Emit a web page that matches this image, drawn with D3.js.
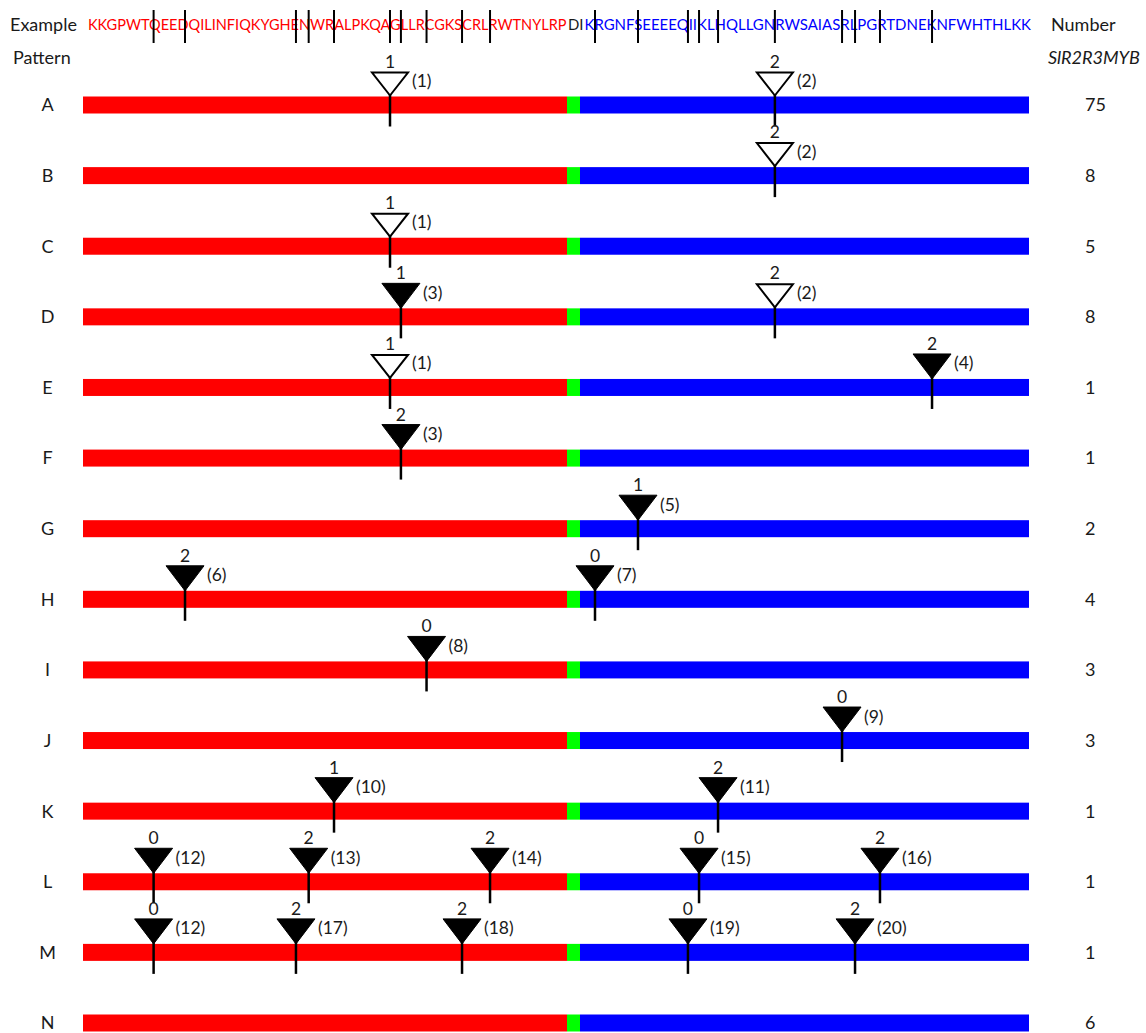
<!DOCTYPE html>
<html>
<head>
<meta charset="utf-8">
<script src="https://cdn.jsdelivr.net/npm/d3@7"></script>
<style>
  html, body { margin: 0; padding: 0; background: #ffffff; }
  svg { display: block; }
  text { font-family: Lato, "Open Sans", sans-serif; fill: #1a1a1a; }
</style>
</head>
<body>
<svg id="chart"></svg>
<script>
// ---------- data ----------
const patterns = ["A","B","C","D","E","F","G","H","I","J","K","L","M","N"];
const counts   = [75, 8, 5, 8, 1, 1, 2, 4, 3, 3, 1, 1, 1, 6];

// intron ids and their positions (amino-acid index along the 100-aa R2R3 domain)
const intronIds = [1, 2, 3, 4, 5, 6, 7, 8, 9, 10, 11, 12, 13, 14, 15, 16, 17, 18, 19, 20];
const intronPos = [32.35, 73.4, 33.5, 89.85, 59.07, 10.75, 54.57, 36.2, 80.43, 26.45,
                   67.45, 7.44, 23.78, 42.89, 65.46, 84.4, 22.44, 39.94, 64.3, 81.79];
const openIntrons = [1, 2];

// introns in each pattern and the phase printed above each
const patternIntrons = [[1,2],[2],[1],[3,2],[1,4],[3],[5],[6,7],[8],[9],[10,11],
                        [12,13,14,15,16],[12,17,18,19,20],[]];
const patternPhases  = [[1,2],[2],[1],[1,2],[1,2],[2],[1],[2,0],[0],[0],[1,2],
                        [0,2,2,0,2],[0,2,2,0,2],[]];

// domain regions: R2 repeat (red), linker (green), R3 repeat (blue)
const regionNames  = ["R2", "linker", "R3"];
const regionBounds = [0, 51, 53, 100];
const regionColors = ["#ff0000", "#00ff00", "#0000ff"];
const sequences    = ["KKGPWTQEEDQILINFIQKYGHENWRALPKQAGLLRCGKSCRLRWTNYLRP", "DI",
                      "KRGNFSEEEEQIIKLHQLLGNRWSAIASRLPGRTDNEKNFWHTHLKK"];
const seqColors    = ["#ff0000", "#1a1a1a", "#0000ff"];

// ---------- layout ----------
const W = 1146, H = 1033;
const svg = d3.select("#chart").attr("width", W).attr("height", H);
svg.append("rect").attr("width", W).attr("height", H).attr("fill", "#fff");

const x = d3.scaleLinear().domain(regionBounds).range([83, 567, 580, 1029]);
const y = d3.scalePoint().domain(patterns).range([105, 1023]);
const barH = 17, triW = 38, triH = 25;
const fs = 18;
const posOf = id => intronPos[intronIds.indexOf(id)];

// ---------- header ----------
svg.append("text").attr("x", 10).attr("y", 30.5).attr("font-size", fs).text("Example");
svg.append("text").attr("x", 13).attr("y", 64).attr("font-size", fs).text("Pattern");
svg.append("text").attr("x", 1051).attr("y", 30.5).attr("font-size", fs).text("Number");
svg.append("text").attr("x", 1048).attr("y", 64).attr("font-size", fs)
   .attr("font-style", "italic").attr("textLength", 92).attr("lengthAdjust", "spacingAndGlyphs")
   .text("SlR2R3MYB");

const seqStart = [x(0) + 5, x(51) + 1, x(53) + 4.5];
const seqEnd   = [x(51) - 0.5, x(53) + 3.5, x(100) + 2];
svg.append("g").selectAll("text").data(sequences).join("text")
   .attr("x", (d, i) => seqStart[i]).attr("y", 29.5)
   .attr("font-size", 14.5)
   .attr("textLength", (d, i) => seqEnd[i] - seqStart[i])
   .attr("lengthAdjust", "spacingAndGlyphs")
   .style("fill", (d, i) => seqColors[i])
   .text(d => d);

svg.append("g").selectAll("line").data(intronPos).join("line")
   .attr("x1", d => x(d)).attr("x2", d => x(d))
   .attr("y1", 10).attr("y2", 43)
   .attr("stroke", "#000").attr("stroke-width", 2);

// ---------- rows ----------
const rows = svg.append("g").selectAll("g").data(patterns).join("g")
   .attr("transform", d => `translate(0,${y(d)})`);

rows.append("text").attr("x", 47.5).attr("y", 6.4).attr("text-anchor", "middle")
   .attr("font-size", fs).text(d => d);
rows.append("text").attr("x", 1085).attr("y", 6.4)
   .attr("font-size", fs).text((d, i) => counts[i]);

rows.selectAll("rect.seg").data(regionNames).join("rect").attr("class", "seg")
   .attr("x", (d, i) => x(regionBounds[i]))
   .attr("width", (d, i) => x(regionBounds[i + 1]) - x(regionBounds[i]))
   .attr("y", -barH / 2).attr("height", barH)
   .attr("fill", (d, i) => regionColors[i]);

const marks = rows.selectAll("g.mark")
   .data((d, i) => patternIntrons[i].map((id, k) => ({ id, phase: patternPhases[i][k] })))
   .join("g").attr("class", "mark")
   .attr("transform", d => `translate(${x(posOf(d.id))},${-barH / 2})`);

marks.append("line").attr("x1", 0).attr("x2", 0)
   .attr("y1", -2).attr("y2", barH + 13)
   .attr("stroke", "#000").attr("stroke-width", 2.5);

marks.append("path")
   .attr("d", d => openIntrons.includes(d.id)
        ? `M0,-1 L${-triW / 2 + 1},${-triH + 1} L${triW / 2 - 1},${-triH + 1} Z`
        : `M0,0 L${-triW / 2},${-triH} L${triW / 2},${-triH} Z`)
   .attr("fill", d => openIntrons.includes(d.id) ? "#fff" : "#000")
   .attr("stroke", "#000")
   .attr("stroke-width", d => openIntrons.includes(d.id) ? 2 : 1)
   .attr("stroke-linejoin", "miter");

marks.append("text").attr("x", 0).attr("y", -triH - 4)
   .attr("text-anchor", "middle").attr("font-size", 17.5).text(d => d.phase);

marks.append("text").attr("x", 22).attr("y", -triH + 15.5)
   .attr("font-size", 17.5).text(d => `(${d.id})`);
</script>
</body>
</html>
